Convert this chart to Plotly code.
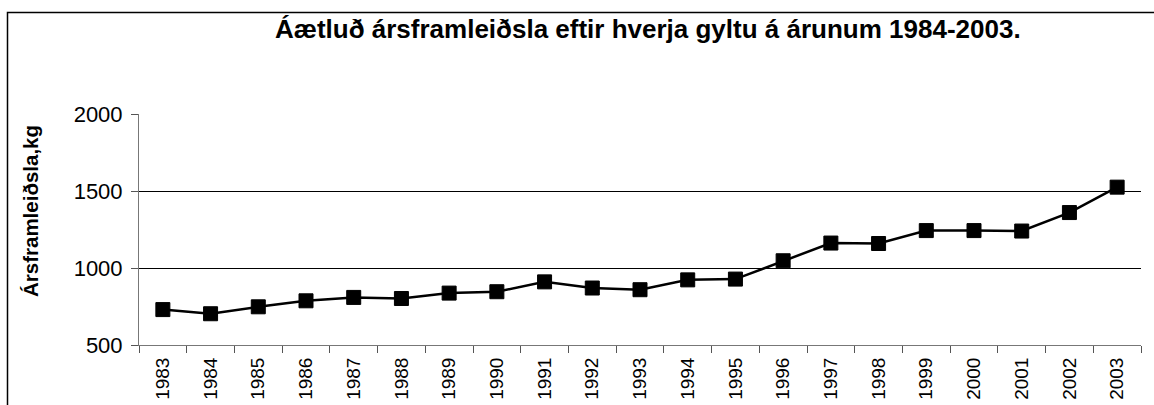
import plotly.graph_objects as go

years = [str(y) for y in range(1983, 2004)]
values = [730, 703, 748, 787, 809, 802, 837, 846, 910, 870, 859,
          923, 928, 1047, 1162, 1159, 1243, 1243, 1240, 1360, 1525]
ytick_vals = [500, 1000, 1500, 2000]

title_text = "Áætluð ársframleiðsla eftir hverja gyltu á árunum 1984-2003."
ytitle_text = "Ársframleiðsla,kg"

W, H = 1154, 405
L, R, T, B = 139, 13, 114, 60
pw, ph = W - L - R, H - T - B

def px_x(px):
    return (px - L) / pw

def px_y(py):
    return (H - B - py) / ph

FONT = "Liberation Sans, Arial, sans-serif"

fig = go.Figure()
fig.add_trace(go.Scatter(
    x=years, y=values, mode="lines+markers",
    line=dict(color="black", width=2.5),
    marker=dict(symbol="square", size=14, color="black",
                line=dict(color="black", width=1)),
    showlegend=False, cliponaxis=False,
))

fig.update_layout(
    width=W, height=H, autosize=False,
    margin=dict(l=L, r=R, t=T, b=B, pad=0, autoexpand=False),
    paper_bgcolor="white", plot_bgcolor="white",
    font=dict(family=FONT, color="black"),
    xaxis=dict(
        type="category", tickson="boundaries", ticks="outside", ticklen=7,
        tickcolor="#555", tickwidth=1, showline=True, linecolor="#777",
        linewidth=1, showgrid=False, tickangle=-90, ticklabelstandoff=4,
        tickfont=dict(size=19, family=FONT, color="black"),
        range=[-0.5, len(years) - 0.5], automargin=False,
    ),
    yaxis=dict(
        range=[500, 2000], tickvals=ytick_vals, ticks="outside", ticklen=7,
        tickcolor="#555", tickwidth=1, showline=True, linecolor="#777",
        linewidth=1, showgrid=True, gridcolor="black", gridwidth=1,
        zeroline=False, ticklabelstandoff=4, automargin=False,
        tickfont=dict(size=22, family=FONT, color="black"),
    ),
    shapes=[dict(
        type="rect", xref="paper", yref="paper",
        x0=px_x(7.5), x1=px_x(W + 20), y0=px_y(H + 20), y1=px_y(12.5),
        line=dict(color="black", width=1.5), fillcolor="rgba(0,0,0,0)",
        layer="below",
    )],
    annotations=[
        dict(text="<b>" + title_text + "</b>", xref="paper", yref="paper",
             x=px_x(648), y=px_y(29), xanchor="center", yanchor="middle",
             showarrow=False, font=dict(size=26, family=FONT, color="black")),
        dict(text="<b>" + ytitle_text + "</b>", xref="paper", yref="paper",
             x=px_x(30), y=px_y(211), xanchor="center", yanchor="middle",
             textangle=-90, showarrow=False,
             font=dict(size=20.5, family=FONT, color="black")),
    ],
)

fig.write_html("out.html", config={"displayModeBar": False},
               post_script="document.body.style.margin='0';")
